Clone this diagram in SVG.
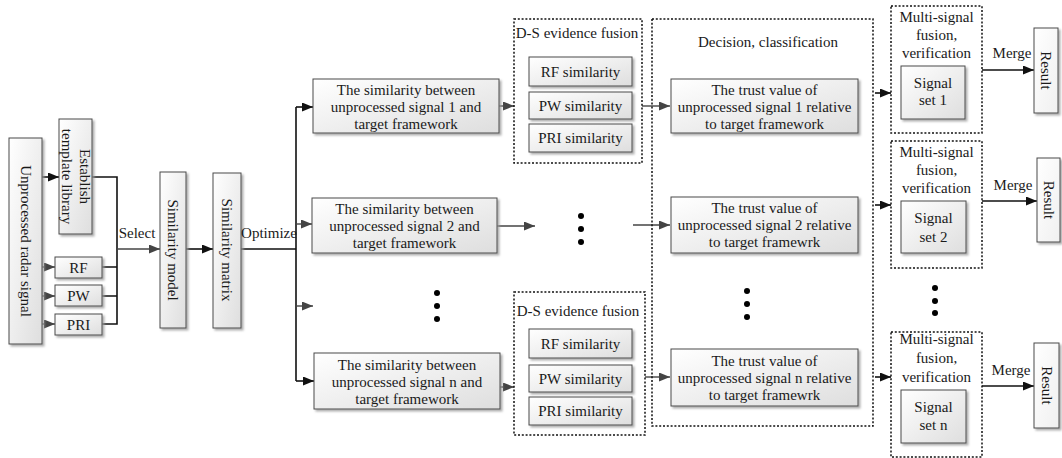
<svg xmlns="http://www.w3.org/2000/svg" width="1062" height="458" viewBox="0 0 1062 458">
<style>
.t{font-family:"Liberation Serif","Times New Roman",serif;font-size:15px;fill:#1a1a1a;text-anchor:middle}
.v{dominant-baseline:central}
.box{fill:url(#g);stroke:#4a4a4a;stroke-width:1;filter:url(#sh)}
.wbox{fill:url(#gw);stroke:#4a4a4a;stroke-width:1;filter:url(#sh)}
.dot{fill:none;stroke:#111;stroke-width:1.5;stroke-dasharray:2 1.8}
.lk{fill:none;stroke:#111;stroke-width:1.6}
.lg{fill:none;stroke:#444;stroke-width:1.4}
.ak{fill:none;stroke:#111;stroke-width:1.6;marker-end:url(#mk)}
.ag{fill:none;stroke:#444;stroke-width:1.4;marker-end:url(#mg)}
</style>
<defs>
<linearGradient id="g" x1="0" y1="0" x2="1" y2="1"><stop offset="0" stop-color="#ffffff"/><stop offset="1" stop-color="#dedede"/></linearGradient>
<linearGradient id="gw" x1="0" y1="0" x2="1" y2="1"><stop offset="0" stop-color="#ffffff"/><stop offset="1" stop-color="#f0f0f0"/></linearGradient>
<filter id="sh" x="-10%" y="-10%" width="130%" height="130%"><feDropShadow dx="2" dy="2" stdDeviation="0.8" flood-color="#999" flood-opacity="0.8"/></filter>
<marker id="mk" markerUnits="userSpaceOnUse" markerWidth="12" markerHeight="10" refX="11" refY="4.5" orient="auto"><path d="M0,0 L11,4.5 L0,9 z" fill="#111"/></marker>
<marker id="mg" markerUnits="userSpaceOnUse" markerWidth="12" markerHeight="10" refX="11" refY="4.5" orient="auto"><path d="M0,0 L11,4.5 L0,9 z" fill="#444"/></marker>
</defs>
<rect width="1062" height="458" fill="#fff"/>

<g id="connectors">
<path class="ak" d="M42,177 H59"/>
<path class="ag" d="M42,267 H55"/>
<path class="ag" d="M42,296 H55"/>
<path class="ag" d="M42,324 H55"/>
<path class="lk" d="M92,177 H117 V324 H102 M102,267 H117 M102,296 H117"/>
<path class="ag" d="M117,249 H160"/>
<path class="ak" d="M186,249 H213"/>
<path class="lk" d="M241,249 H296 M296,107 V381"/>
<path class="ak" d="M296,107 H313"/>
<path class="ag" d="M296,224 H312"/>
<path class="ag" d="M296,306 H313"/>
<path class="ak" d="M296,381 H314"/>
<path class="ag" d="M499,106 H514"/>
<path class="ag" d="M642,106 H670"/>
<path class="ag" d="M497,226 H535"/>
<path class="ag" d="M633,225 H670"/>
<path class="ag" d="M500,387 H514"/>
<path class="ag" d="M645,377 H670"/>
<path class="ak" d="M875,93 H891"/>
<path class="ak" d="M875,205 H891"/>
<path class="ak" d="M875,377 H891"/>
<path class="ak" d="M982,70 H1034"/>
<path class="ak" d="M982,201 H1037"/>
<path class="ak" d="M982,386 H1034"/>
</g>

<g id="unprocessed">
<rect class="box" x="9" y="138" width="33" height="206"/>
<text class="t v" transform="translate(25.5,241) rotate(90)">Unprocessed radar signal</text>
</g>
<g id="establish">
<rect class="box" x="59" y="119" width="33" height="115"/>
<text class="t v" transform="translate(84.5,176.5) rotate(90)">Establish</text>
<text class="t v" transform="translate(67,176.5) rotate(90)">template library</text>
</g>
<g id="rf"><rect class="box" x="55" y="257" width="47" height="21"/><text class="t" x="78.5" y="273">RF</text></g>
<g id="pw"><rect class="box" x="55" y="285" width="47" height="21"/><text class="t" x="78.5" y="301">PW</text></g>
<g id="pri"><rect class="box" x="55" y="314" width="47" height="21"/><text class="t" x="78.5" y="330">PRI</text></g>
<text class="t" x="137" y="238">Select</text>
<g id="sim-model">
<rect class="box" x="160" y="172" width="26" height="156"/>
<text class="t v" transform="translate(173,250) rotate(90)">Similarity model</text>
</g>
<g id="sim-matrix">
<rect class="box" x="213" y="173" width="28" height="155"/>
<text class="t v" transform="translate(227,250) rotate(90)">Similarity matrix</text>
</g>
<text class="t" x="269" y="238">Optimize</text>

<g id="sim1">
<rect class="box" x="313" y="79" width="186" height="54"/>
<text class="t" x="406" y="95">The similarity between</text>
<text class="t" x="406" y="112">unprocessed signal 1 and</text>
<text class="t" x="406" y="129">target framework</text>
</g>
<g id="sim2">
<rect class="box" x="312" y="198" width="185" height="55"/>
<text class="t" x="404.5" y="214">The similarity between</text>
<text class="t" x="404.5" y="231">unprocessed signal 2 and</text>
<text class="t" x="404.5" y="248">target framework</text>
</g>
<g id="simn">
<rect class="box" x="314" y="353" width="186" height="56"/>
<text class="t" x="407" y="370">The similarity between</text>
<text class="t" x="407" y="387">unprocessed signal n  and</text>
<text class="t" x="407" y="404">target framework</text>
</g>
<g id="dots-left">
<circle cx="437" cy="293" r="3"/><circle cx="437" cy="306" r="3"/><circle cx="437" cy="319" r="3"/>
<circle cx="581" cy="216" r="3"/><circle cx="581" cy="229" r="3"/><circle cx="581" cy="242" r="3"/>
</g>

<g id="ds1">
<rect class="dot" x="514" y="19" width="128" height="144"/>
<text class="t" x="577" y="38">D-S evidence fusion</text>
<rect class="box" x="529" y="57" width="103" height="29"/><text class="t" x="580.5" y="77">RF similarity</text>
<rect class="box" x="529" y="92" width="103" height="27"/><text class="t" x="580.5" y="111">PW similarity</text>
<rect class="box" x="529" y="124" width="103" height="28"/><text class="t" x="580.5" y="143">PRI similarity</text>
</g>
<g id="dsn">
<rect class="dot" x="514" y="292" width="131" height="143"/>
<text class="t" x="578" y="316">D-S evidence fusion</text>
<rect class="box" x="529" y="329" width="103" height="29"/><text class="t" x="580.5" y="349">RF similarity</text>
<rect class="box" x="529" y="365" width="103" height="27"/><text class="t" x="580.5" y="384">PW similarity</text>
<rect class="box" x="529" y="397" width="103" height="28"/><text class="t" x="580.5" y="416">PRI similarity</text>
</g>

<g id="decision">
<rect class="dot" x="652" y="19" width="221" height="407"/>
<text class="t" x="768" y="47">Decision, classification</text>
<rect class="box" x="671" y="79" width="187" height="54"/>
<text class="t" x="764.5" y="95">The trust value of</text>
<text class="t" x="764.5" y="112">unprocessed signal 1 relative</text>
<text class="t" x="764.5" y="129">to target framework</text>
<rect class="box" x="671" y="197" width="187" height="56"/>
<text class="t" x="764.5" y="213">The trust value of</text>
<text class="t" x="764.5" y="230">unprocessed signal 2  relative</text>
<text class="t" x="764.5" y="247">to target framewrk</text>
<rect class="box" x="671" y="349" width="187" height="57"/>
<text class="t" x="764.5" y="366">The trust value of</text>
<text class="t" x="764.5" y="383">unprocessed signal n relative</text>
<text class="t" x="764.5" y="400">to target framewrk</text>
<circle cx="747" cy="291" r="3"/><circle cx="747" cy="304" r="3"/><circle cx="747" cy="317" r="3"/>
</g>

<g id="ms1">
<rect class="dot" x="891" y="6" width="91" height="127"/>
<text class="t" x="936.5" y="22">Multi-signal</text>
<text class="t" x="936.5" y="40">fusion,</text>
<text class="t" x="936.5" y="58">verification</text>
<rect class="box" x="901" y="66" width="64" height="53"/>
<text class="t" x="933" y="88">Signal</text>
<text class="t" x="933" y="105">set 1</text>
</g>
<g id="ms2">
<rect class="dot" x="891" y="141" width="91" height="127"/>
<text class="t" x="936.5" y="157">Multi-signal</text>
<text class="t" x="936.5" y="175">fusion,</text>
<text class="t" x="936.5" y="193">verification</text>
<rect class="box" x="901" y="201" width="65" height="52"/>
<text class="t" x="933.5" y="223">Signal</text>
<text class="t" x="933.5" y="242">set 2</text>
</g>
<g id="dots-right"><circle cx="935" cy="288" r="3"/><circle cx="935" cy="301" r="3"/><circle cx="935" cy="313" r="3"/></g>
<g id="msn">
<rect class="dot" x="891" y="332" width="91" height="125"/>
<text class="t" x="936.5" y="344">Multi-signal</text>
<text class="t" x="936.5" y="363">fusion,</text>
<text class="t" x="936.5" y="382">verification</text>
<rect class="box" x="901" y="390" width="65" height="53"/>
<text class="t" x="933.5" y="412">Signal</text>
<text class="t" x="933.5" y="430">set n</text>
</g>

<text class="t" x="1012" y="58">Merge</text>
<text class="t" x="1013" y="190">Merge</text>
<text class="t" x="1011" y="375">Merge</text>
<g id="result1"><rect class="wbox" x="1034" y="28" width="24" height="85"/><text class="t v" transform="translate(1046,70.5) rotate(90)">Result</text></g>
<g id="result2"><rect class="wbox" x="1037" y="158" width="23" height="84"/><text class="t v" transform="translate(1048.5,200) rotate(90)">Result</text></g>
<g id="resultn"><rect class="wbox" x="1034" y="343" width="25" height="85"/><text class="t v" transform="translate(1046.5,385.5) rotate(90)">Result</text></g>
</svg>
